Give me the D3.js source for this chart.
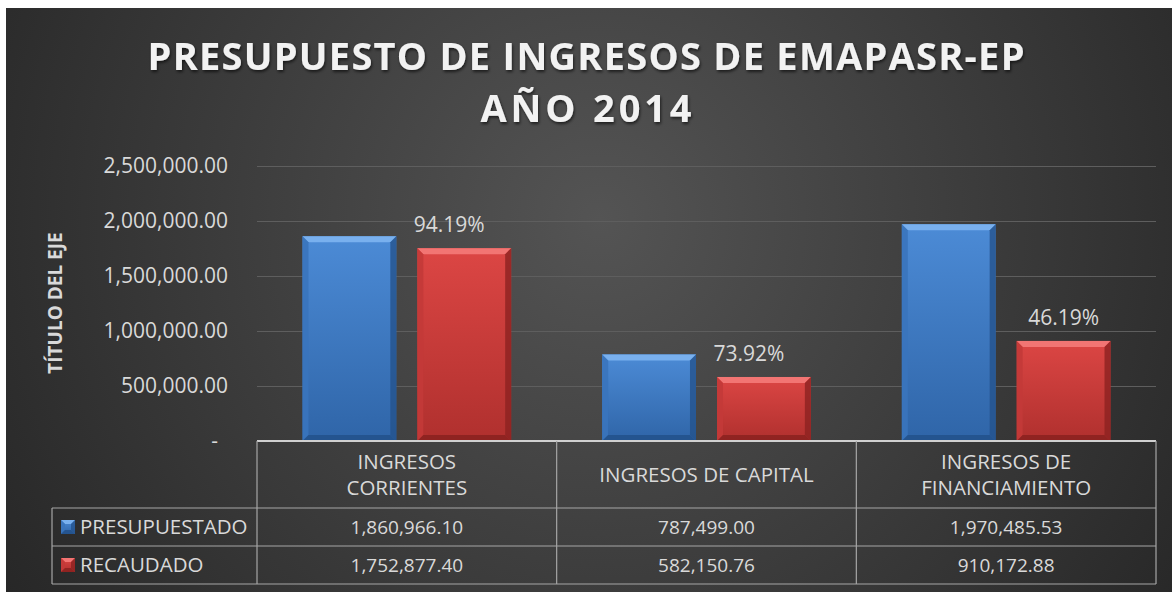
<!DOCTYPE html>
<html>
<head>
<meta charset="utf-8">
<script src="https://cdn.jsdelivr.net/npm/d3@7"></script>
<style>
body { margin: 0; background: #ffffff; }
text { font-family: "Open Sans", sans-serif; }
</style>
</head>
<body>
<script>
// datos del grafico
var categories = [["INGRESOS", "CORRIENTES"], ["INGRESOS DE CAPITAL"], ["INGRESOS DE", "FINANCIAMIENTO"]];
var series = ["PRESUPUESTADO", "RECAUDADO"];
var presupuestado = [1860966.10, 787499.00, 1970485.53];
var recaudado = [1752877.40, 582150.76, 910172.88];
var porcentajes = ["94.19%", "73.92%", "46.19%"];
var yTicks = [0, 500000, 1000000, 1500000, 2000000, 2500000];

var W = 1172, H = 592;
var plot = {left: 257, right: 1156, top: 166, bottom: 441};

var svg = d3.select("body").append("svg")
	.attr("width", W)
	.attr("height", H);

var defs = svg.append("defs");

// fondo con degradado radial
var bg = defs.append("radialGradient")
	.attr("id", "bg")
	.attr("gradientUnits", "userSpaceOnUse")
	.attr("cx", 600).attr("cy", 220).attr("r", 720);
bg.append("stop").attr("offset", "0%").attr("stop-color", "#545454");
bg.append("stop").attr("offset", "100%").attr("stop-color", "#262626");

var shadow = defs.append("filter").attr("id", "shadow")
	.attr("x", "-10%").attr("y", "-20%").attr("width", "120%").attr("height", "150%");
shadow.append("feDropShadow")
	.attr("dx", 1).attr("dy", 2).attr("stdDeviation", 1.5)
	.attr("flood-color", "#000").attr("flood-opacity", 0.6);

var colors = {
	PRESUPUESTADO: {top: "#4c8bd6", bottom: "#2f65a8", light: "#79b0ee", dark: "#24528c", side: "#3a74bd"},
	RECAUDADO: {top: "#dc4644", bottom: "#b0302e", light: "#f27573", dark: "#8c2220", side: "#c33a38"}
};

series.forEach(function (s, i) {
	var g = defs.append("linearGradient")
		.attr("id", "grad" + i)
		.attr("x1", 0).attr("y1", 0).attr("x2", 0).attr("y2", 1);
	g.append("stop").attr("offset", "0%").attr("stop-color", colors[s].top);
	g.append("stop").attr("offset", "100%").attr("stop-color", colors[s].bottom);
});

svg.append("rect")
	.attr("x", 6).attr("y", 8)
	.attr("width", W - 6).attr("height", H - 8)
	.attr("fill", "url(#bg)");

// scale
var x = d3.scaleBand()
	.domain(d3.range(categories.length))
	.range([plot.left, plot.right]);

var xs = d3.scaleBand()
	.domain(series)
	.range([0, x.bandwidth()])
	.paddingInner(0.183)
	.paddingOuter(0.396);

var y = d3.scaleLinear()
	.domain([0, 2500000])
	.range([plot.bottom, plot.top]);

// griglia
svg.append("g")
	.selectAll("line")
	.data(yTicks.filter(function (d) { return d > 0; }))
	.enter()
	.append("line")
	.attr("x1", plot.left).attr("x2", plot.right)
	.attr("y1", function (d) { return y(d) + 0.5; })
	.attr("y2", function (d) { return y(d) + 0.5; })
	.attr("stroke", "#5e5e5e")
	.attr("stroke-width", 1);

// etichette asse y
var fmt = d3.format(",.2f");
svg.append("g")
	.selectAll("text")
	.data(yTicks)
	.enter()
	.append("text")
	.attr("x", function (d) { return d === 0 ? 218 : 228; })
	.attr("y", function (d) { return y(d); })
	.attr("dy", "0.35em")
	.attr("text-anchor", "end")
	.attr("fill", "#d9d9d9")
	.style("font-size", "21px")
	.text(function (d) { return d === 0 ? "-" : fmt(d); });

svg.append("text")
	.attr("transform", "translate(62,303) rotate(-90)")
	.attr("text-anchor", "middle")
	.attr("fill", "#d9d9d9")
	.style("font-size", "19px")
	.style("font-weight", "bold")
	.text("TÍTULO DEL EJE");

// barre con bisello
var bevel = 6;
function drawBar(g, x0, y0, w, h, s) {
	var c = colors[s];
	var gi = series.indexOf(s);
	g.append("rect")
		.attr("x", x0).attr("y", y0).attr("width", w).attr("height", h)
		.attr("fill", "url(#grad" + gi + ")");
	var b = Math.min(bevel, h / 2);
	var x1 = x0 + w, y1 = y0 + h;
	// alto
	g.append("polygon")
		.attr("points", [[x0, y0], [x1, y0], [x1 - b, y0 + b], [x0 + b, y0 + b]].join(" "))
		.attr("fill", c.light);
	// sinistra
	g.append("polygon")
		.attr("points", [[x0, y0], [x0 + b, y0 + b], [x0 + b, y1 - b], [x0, y1]].join(" "))
		.attr("fill", c.side).attr("opacity", 0.9);
	// destra
	g.append("polygon")
		.attr("points", [[x1, y0], [x1, y1], [x1 - b, y1 - b], [x1 - b, y0 + b]].join(" "))
		.attr("fill", c.dark).attr("opacity", 0.8);
	// basso
	g.append("polygon")
		.attr("points", [[x0, y1], [x0 + b, y1 - b], [x1 - b, y1 - b], [x1, y1]].join(" "))
		.attr("fill", c.dark).attr("opacity", 0.9);
}

var values = {PRESUPUESTADO: presupuestado, RECAUDADO: recaudado};
var bars = svg.append("g");
categories.forEach(function (cat, i) {
	series.forEach(function (s) {
		var v = values[s][i];
		drawBar(bars, x(i) + xs(s), y(v), xs.bandwidth(), y(0) - y(v), s);
	});
});

// percentuali
svg.append("g")
	.selectAll("text")
	.data(porcentajes)
	.enter()
	.append("text")
	.attr("x", function (d, i) { return x(i) + xs("RECAUDADO") + xs.bandwidth() / 2 - (i < 2 ? 15 : 0); })
	.attr("y", function (d, i) { return y(recaudado[i]) - 16; })
	.attr("text-anchor", "middle")
	.attr("fill", "#d9d9d9")
	.style("font-size", "21px")
	.text(function (d) { return d; });

// tabella dati
var rowTop = plot.bottom, headerBottom = 508, row1 = 546, tableBottom = 584, legendLeft = 52;
var tbl = svg.append("g")
	.attr("stroke", "#a6a6a6")
	.attr("stroke-width", 1.2)
	.attr("fill", "none");

tbl.append("line").attr("x1", plot.left).attr("x2", plot.right).attr("y1", rowTop).attr("y2", rowTop)
	.attr("stroke", "#d0d0d0").attr("stroke-width", 2.2);
tbl.append("line").attr("x1", legendLeft).attr("x2", plot.right).attr("y1", headerBottom).attr("y2", headerBottom);
tbl.append("line").attr("x1", legendLeft).attr("x2", plot.right).attr("y1", row1).attr("y2", row1);
tbl.append("line").attr("x1", legendLeft).attr("x2", plot.right).attr("y1", tableBottom).attr("y2", tableBottom);
tbl.append("line").attr("x1", legendLeft).attr("x2", legendLeft).attr("y1", headerBottom).attr("y2", tableBottom);
d3.range(categories.length + 1).forEach(function (i) {
	var xx = i < categories.length ? x(i) : plot.right;
	tbl.append("line").attr("x1", xx).attr("x2", xx).attr("y1", rowTop).attr("y2", tableBottom);
});

// intestazioni
categories.forEach(function (cat, i) {
	var cy = (rowTop + headerBottom) / 2;
	var lh = 26;
	cat.forEach(function (line, j) {
		svg.append("text")
			.attr("x", x(i) + x.bandwidth() / 2)
			.attr("y", cy + (j - (cat.length - 1) / 2) * lh)
			.attr("dy", "0.35em")
			.attr("text-anchor", "middle")
			.attr("fill", "#d9d9d9")
			.style("font-size", "20.5px")
			.text(line);
	});
});

// righe
var rows = [[headerBottom, row1], [row1, tableBottom]];
series.forEach(function (s, r) {
	var cy = (rows[r][0] + rows[r][1]) / 2;
	var kg = svg.append("g");
	drawLegendKey(kg, 61, cy - 7, 14, s);
	svg.append("text")
		.attr("x", 80).attr("y", cy).attr("dy", "0.35em")
		.attr("fill", "#d9d9d9")
		.style("font-size", "20.5px")
		.text(s);
	values[s].forEach(function (v, i) {
		svg.append("text")
			.attr("x", x(i) + x.bandwidth() / 2)
			.attr("y", cy).attr("dy", "0.35em")
			.attr("text-anchor", "middle")
			.attr("fill", "#d9d9d9")
			.style("font-size", "19px")
			.text(fmt(v));
	});
});

function drawLegendKey(g, x0, y0, size, s) {
	var saved = bevel;
	bevel = 4;
	drawBar(g, x0, y0, size, size, s);
	bevel = saved;
}

// titolo
var title = ["PRESUPUESTO DE INGRESOS DE EMAPASR-EP", "AÑO 2014"];
var titleWidths = [877, 211];
svg.append("g")
	.selectAll("text")
	.data(title)
	.enter()
	.append("text")
	.attr("x", 586)
	.attr("y", function (d, i) { return 70 + i * 52; })
	.attr("text-anchor", "middle")
	.attr("textLength", function (d, i) { return titleWidths[i]; })
	.attr("lengthAdjust", "spacing")
	.attr("fill", "#f2f2f2")
	.attr("filter", "url(#shadow)")
	.style("font-size", "38px")
	.style("font-weight", "bold")
	.text(function (d) { return d; });
</script>
</body>
</html>
